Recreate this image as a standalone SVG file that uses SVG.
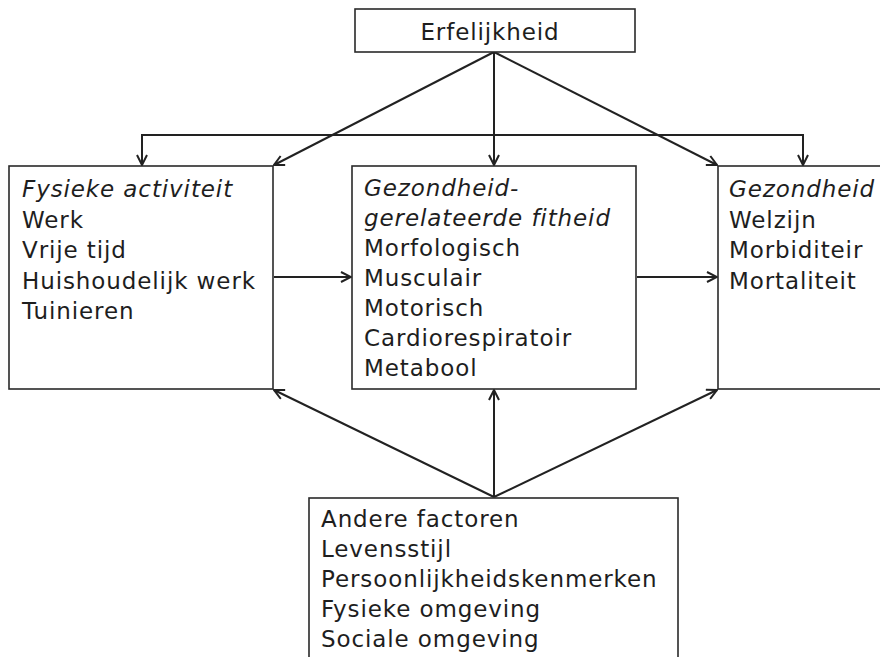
<svg xmlns="http://www.w3.org/2000/svg" width="880" height="657" viewBox="0 0 880 657">
  <defs>
    <marker id="arrow" viewBox="0 0 12 12" refX="11" refY="6" markerWidth="12" markerHeight="12" markerUnits="userSpaceOnUse" orient="auto">
      <path d="M1,1 L11,6 L1,11" fill="none" stroke="#222" stroke-width="2"/>
    </marker>
  </defs>
  <style>
    .box { fill: #fff; stroke: #2a2a2a; stroke-width: 1.6; }
    .lbl { font-family: "DejaVu Sans", Verdana, sans-serif; font-size: 23px; fill: #1e1e1e; letter-spacing: 0.9px; }
    .it { font-style: italic; }
    .conn { fill: none; stroke: #222; stroke-width: 2; }
    .arr { marker-end: url(#arrow); }
  </style>
  <rect width="880" height="657" fill="#fff"/>

  <!-- connectors -->
  <g id="connectors">
    <!-- heredity branches -->
    <line class="conn arr" x1="494" y1="52" x2="494" y2="165"/>
    <line class="conn arr" x1="494" y1="52" x2="274" y2="165"/>
    <line class="conn arr" x1="494" y1="52" x2="717" y2="165"/>
    <polyline class="conn" points="142,165 142,135 803,135 803,165"/>
    <line class="conn arr" x1="142" y1="135" x2="142" y2="165"/>
    <line class="conn arr" x1="803" y1="135" x2="803" y2="165"/>
    <!-- horizontal chain -->
    <line class="conn arr" x1="274" y1="277" x2="351" y2="277"/>
    <line class="conn arr" x1="637" y1="277" x2="717" y2="277"/>
    <!-- other factors -->
    <line class="conn arr" x1="494" y1="497" x2="274" y2="390"/>
    <line class="conn arr" x1="494" y1="497" x2="494" y2="390"/>
    <line class="conn arr" x1="494" y1="497" x2="717" y2="390"/>
  </g>

  <g id="erfelijkheid">
    <rect class="box" x="355" y="9" width="280" height="43"/>
    <text class="lbl" x="490" y="40" text-anchor="middle">Erfelijkheid</text>
  </g>

  <g id="fysieke-activiteit">
    <rect class="box" x="9" y="166" width="264" height="223"/>
    <text class="lbl" x="22" y="197"><tspan class="it">Fysieke activiteit</tspan><tspan x="22" dy="30.5">Werk</tspan><tspan x="22" dy="30.5">Vrije tijd</tspan><tspan x="22" dy="30.5">Huishoudelijk werk</tspan><tspan x="22" dy="30.5">Tuinieren</tspan></text>
  </g>

  <g id="fitheid">
    <rect class="box" x="352" y="166" width="284" height="223"/>
    <text class="lbl" x="364" y="196"><tspan class="it">Gezondheid-</tspan><tspan class="it" x="364" dy="30">gerelateerde fitheid</tspan><tspan x="364" dy="30">Morfologisch</tspan><tspan x="364" dy="30">Musculair</tspan><tspan x="364" dy="30">Motorisch</tspan><tspan x="364" dy="30">Cardiorespiratoir</tspan><tspan x="364" dy="30">Metabool</tspan></text>
  </g>

  <g id="gezondheid">
    <rect class="box" x="718" y="166" width="180" height="223"/>
    <text class="lbl" x="729" y="197"><tspan class="it">Gezondheid</tspan><tspan x="729" dy="30.5">Welzijn</tspan><tspan x="729" dy="30.5">Morbiditeir</tspan><tspan x="729" dy="30.5">Mortaliteit</tspan></text>
  </g>

  <g id="andere-factoren">
    <rect class="box" x="309" y="498" width="369" height="180"/>
    <text class="lbl" x="321" y="527"><tspan>Andere factoren</tspan><tspan x="321" dy="30">Levensstijl</tspan><tspan x="321" dy="30">Persoonlijkheidskenmerken</tspan><tspan x="321" dy="30">Fysieke omgeving</tspan><tspan x="321" dy="30">Sociale omgeving</tspan></text>
  </g>
</svg>
